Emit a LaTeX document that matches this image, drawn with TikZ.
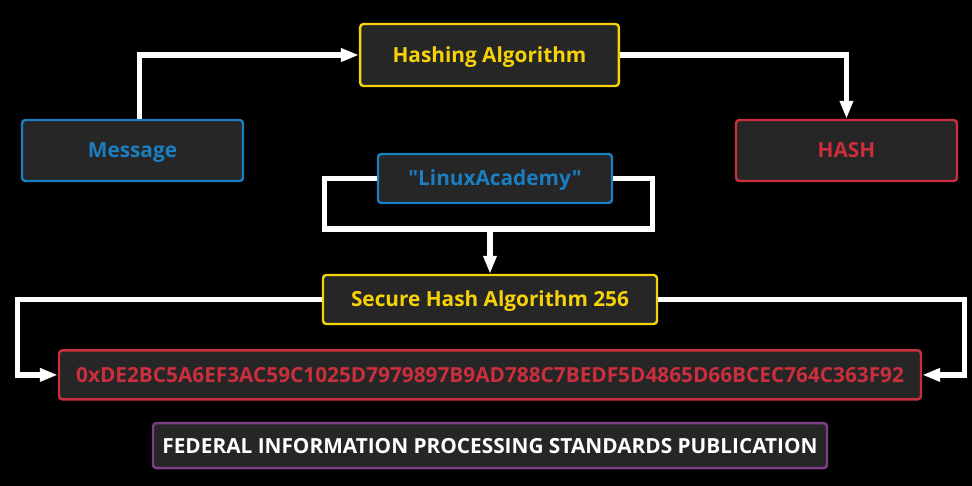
\documentclass[tikz,border=0pt]{standalone}
\usepackage{fontspec}
\newfontfamily\boxfont{Open Sans}
\usetikzlibrary{arrows.meta,positioning}
\definecolor{boxgray}{HTML}{262626}
\definecolor{algyellow}{HTML}{F5D20A}
\definecolor{msgblue}{HTML}{1A7EC1}
\definecolor{hashred}{HTML}{CB2E3C}
\definecolor{fipspurple}{HTML}{7E3F87}

\begin{document}
\begin{tikzpicture}[x=0.75pt,y=-0.75pt,node distance=20pt,
    box/.style={draw,line width=1.8pt,rounded corners=2.5pt,fill=boxgray,
      font=\boxfont\bfseries\fontsize{15.6}{18}\selectfont,inner sep=0pt,
      text height=11.1pt,text depth=0pt},
    link/.style={draw=white,line width=4pt},
    arrow/.style={link,-{Triangle[length=13.5pt,width=9.5pt]}}]
      \fill[black] (0,0) rectangle (972,486);
      \useasboundingbox (0,0) rectangle (972,486);
      \begin{scope}[every node/.style={box}]
        \node (hashalg) [draw=algyellow,text=algyellow,minimum width=194pt,minimum height=46.5pt] at (489.5,55) {Hashing Algorithm};
        \node (msg) [draw=msgblue,text=msgblue,minimum width=165.75pt,minimum height=45.75pt] at (132.5,150.5) {Message};
        \node (hash) [draw=hashred,text=hashred,minimum width=165.75pt,minimum height=45.75pt] at (846.5,150.5) {HASH};
        \node (la) [draw=msgblue,text=msgblue,minimum width=175.5pt,minimum height=36.75pt] at (495,178.5) {"LinuxAcademy"};
        \node (sha) [draw=algyellow,text=algyellow,minimum width=250.5pt,minimum height=36.75pt] at (490,299.5) {Secure Hash Algorithm 256};
        \node (hex) [draw=hashred,text=hashred,minimum width=646.5pt,minimum height=36.75pt] [below=18pt of sha] {0xDE2BC5A6EF3AC59C1025D7979897B9AD788C7BEDF5D4865D66BCEC764C363F92};
        \node (fips) [draw=fipspurple,text=white,minimum width=505.5pt,minimum height=33.75pt] [below=16pt of hex] {FEDERAL INFORMATION PROCESSING STANDARDS PUBLICATION};
      \end{scope}
      \coordinate (loop) at (490,229);
      \begin{scope}
        \draw[arrow] ([xshift=5pt]msg.north) |- (hashalg.west);
        \draw[arrow] (hashalg.east) -| (hash.north);
        \draw[link] (la.west) -- ++(-52,0) |- (loop);
        \draw[link] (la.east) -- ++(39,0) |- (loop);
        \draw[arrow] (loop) -- (sha.north);
        \draw[arrow] (sha.west) -- ++(-304,0) |- (hex.west);
        \draw[arrow] (sha.east) -- ++(306,0) |- (hex.east);
      \end{scope}
    \end{tikzpicture}
\end{document}
